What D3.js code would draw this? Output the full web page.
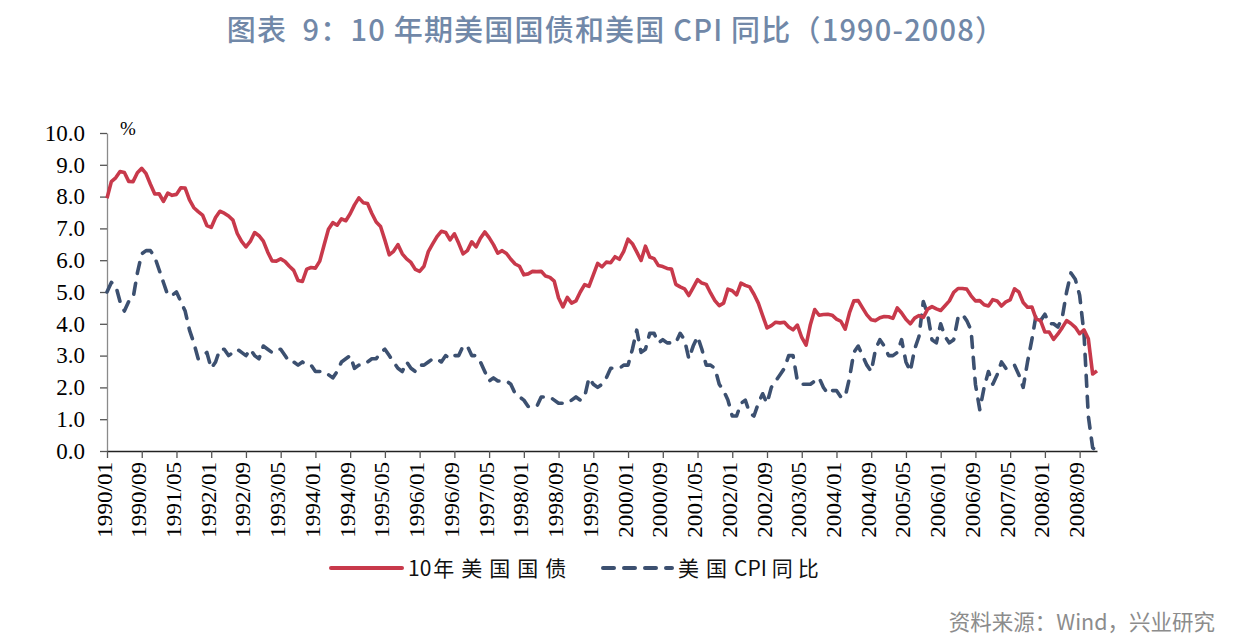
<!DOCTYPE html>
<html lang="zh-CN">
<head>
  <meta charset="UTF-8">
  <title>10年期美国国债和美国CPI同比</title>
  <script src="https://cdnjs.cloudflare.com/ajax/libs/d3/7.8.5/d3.min.js"></script>
  <style>
    html, body {
      margin: 0;
      padding: 0;
      background: #fff;
    }
    #chart {
      width: 1234px;
      height: 642px;
    }
    .axis text {
      font-family: "Liberation Serif", "Times New Roman", serif;
      fill: #000;
    }
  </style>
</head>
<body>
  <div id="chart"></div>

  <script>
    // monthly data, 1990/01 .. 2009/01
    const startYear = 1990;
    const tickLabels = ["1990/01", "1990/09", "1991/05", "1992/01", "1992/09", "1993/05", "1994/01", "1994/09",
      "1995/05", "1996/01", "1996/09", "1997/05", "1998/01", "1998/09", "1999/05", "2000/01", "2000/09",
      "2001/05", "2002/01", "2002/09", "2003/05", "2004/01", "2004/09", "2005/05", "2006/01", "2006/09",
      "2007/05", "2008/01", "2008/09"];
    const yTicks = [0, 1, 2, 3, 4, 5, 6, 7, 8, 9, 10];

    // 10年美国国债
    const treasury10y = [
      7.95, 8.47, 8.59, 8.79, 8.76, 8.48, 8.47, 8.75, 8.89, 8.72, 8.39, 8.08,
      8.09, 7.85, 8.11, 8.04, 8.07, 8.28, 8.27, 7.90, 7.65, 7.53, 7.42, 7.09,
      7.03, 7.34, 7.54, 7.48, 7.39, 7.26, 6.84, 6.59, 6.42, 6.59, 6.87, 6.77,
      6.60, 6.26, 5.98, 5.97, 6.04, 5.96, 5.81, 5.68, 5.36, 5.33, 5.72, 5.77,
      5.75, 5.97, 6.48, 6.97, 7.18, 7.10, 7.30, 7.24, 7.46, 7.74, 7.96, 7.81,
      7.78, 7.47, 7.20, 7.06, 6.63, 6.17, 6.28, 6.49, 6.20, 6.04, 5.93, 5.71,
      5.65, 5.81, 6.27, 6.51, 6.74, 6.91, 6.87, 6.64, 6.83, 6.53, 6.20, 6.30,
      6.58, 6.42, 6.69, 6.89, 6.71, 6.49, 6.22, 6.30, 6.21, 6.03, 5.88, 5.81,
      5.54, 5.57, 5.65, 5.64, 5.65, 5.50, 5.46, 5.34, 4.81, 4.53, 4.83, 4.65,
      4.72, 5.00, 5.23, 5.18, 5.54, 5.90, 5.79, 5.94, 5.92, 6.11, 6.03, 6.28,
      6.66, 6.52, 6.26, 5.99, 6.44, 6.10, 6.05, 5.83, 5.80, 5.74, 5.72, 5.24,
      5.16, 5.10, 4.89, 5.14, 5.39, 5.28, 5.24, 4.97, 4.73, 4.57, 4.65, 5.09,
      5.04, 4.91, 5.28, 5.21, 5.16, 4.93, 4.65, 4.26, 3.87, 3.94, 4.05, 4.03,
      4.05, 3.90, 3.81, 3.96, 3.57, 3.33, 3.98, 4.45, 4.27, 4.29, 4.30, 4.27,
      4.15, 4.08, 3.83, 4.35, 4.72, 4.73, 4.50, 4.28, 4.13, 4.10, 4.19, 4.23,
      4.22, 4.17, 4.50, 4.34, 4.14, 4.00, 4.18, 4.26, 4.20, 4.46, 4.54, 4.47,
      4.42, 4.57, 4.72, 4.99, 5.11, 5.11, 5.09, 4.88, 4.72, 4.73, 4.60, 4.56,
      4.76, 4.72, 4.56, 4.69, 4.75, 5.10, 5.00, 4.67, 4.52, 4.53, 4.15, 4.10,
      3.74, 3.74, 3.51, 3.68, 3.88, 4.10, 4.01, 3.89, 3.69, 3.81, 3.53, 2.42,
      2.52
    ];

    // 美国CPI同比
    const cpiYoY = [
      5.0, 5.3, 5.2, 4.7, 4.4, 4.7, 4.8, 5.6, 6.2, 6.3, 6.3, 6.1,
      5.7, 5.3, 4.9, 4.9, 5.0, 4.7, 4.4, 3.8, 3.4, 2.9, 3.0, 3.1,
      2.6, 2.8, 3.2, 3.2, 3.0, 3.1, 3.2, 3.1, 3.0, 3.2, 3.0, 2.9,
      3.3, 3.2, 3.1, 3.2, 3.2, 3.0, 2.8, 2.8, 2.7, 2.8, 2.7, 2.7,
      2.5, 2.5, 2.5, 2.4, 2.3, 2.5, 2.8, 2.9, 3.0, 2.6, 2.7, 2.7,
      2.8, 2.9, 2.9, 3.1, 3.2, 3.0, 2.8, 2.6, 2.5, 2.8, 2.6, 2.5,
      2.7, 2.7, 2.8, 2.9, 2.9, 2.8, 3.0, 2.9, 3.0, 3.0, 3.3, 3.3,
      3.0, 3.0, 2.8, 2.5, 2.2, 2.3, 2.2, 2.2, 2.2, 2.1, 1.8, 1.7,
      1.6, 1.4, 1.4, 1.4, 1.7, 1.7, 1.7, 1.6, 1.5, 1.5, 1.5, 1.6,
      1.7, 1.6, 1.7, 2.3, 2.1, 2.0, 2.1, 2.3, 2.6, 2.6, 2.6, 2.7,
      2.7, 3.2, 3.8, 3.1, 3.2, 3.7, 3.7, 3.4, 3.5, 3.4, 3.4, 3.4,
      3.7, 3.5, 2.9, 3.3, 3.6, 3.2, 2.7, 2.7, 2.6, 2.1, 1.9, 1.6,
      1.1, 1.1, 1.5, 1.6, 1.2, 1.1, 1.5, 1.8, 1.5, 2.0, 2.2, 2.4,
      2.6, 3.0, 3.0, 2.2, 2.1, 2.1, 2.1, 2.2, 2.3, 2.0, 1.8, 1.9,
      1.9, 1.7, 1.7, 2.3, 3.1, 3.3, 3.0, 2.7, 2.5, 3.2, 3.5, 3.3,
      3.0, 3.0, 3.1, 3.5, 2.8, 2.5, 3.2, 3.6, 4.7, 4.3, 3.5, 3.4,
      4.0, 3.6, 3.4, 3.5, 4.2, 4.3, 4.1, 3.8, 2.1, 1.3, 2.0, 2.5,
      2.1, 2.4, 2.8, 2.6, 2.7, 2.7, 2.4, 2.0, 2.8, 3.5, 4.3, 4.1,
      4.3, 4.0, 4.0, 3.9, 4.2, 5.0, 5.6, 5.4, 4.9, 3.7, 1.1, 0.1,
      0.0
    ];

    const months = treasury10y.map((_, i) => {
      const y = startYear + Math.floor(i / 12);
      const m = (i % 12) + 1;
      return `${y}/${m < 10 ? "0" + m : m}`;
    });

    const width = 1234, height = 642;
    const plot = { left: 107, right: 1097, top: 133, bottom: 451 };

    const svg = d3.select("#chart")
      .append("svg")
        .attr("width", width)
        .attr("height", height);

    const x = d3.scalePoint().domain(months).range([plot.left, plot.right]);
    const y = d3.scaleLinear().domain([0, 10]).range([plot.bottom, plot.top]);

    // title
    svg.append("text")
      .attr("x", 616)
      .attr("y", 41)
      .attr("text-anchor", "middle")
      .style("font-family", "'Noto Sans CJK SC', sans-serif")
      .style("font-weight", 500)
      .style("font-size", "29px")
      .style("letter-spacing", "1.2px")
      .style("fill", "#7188a8")
      .style("white-space", "pre")
      .text("图表  9：10 年期美国国债和美国 CPI 同比（1990-2008）");

    // y axis
    const yAxis = svg.append("g")
      .attr("class", "axis y-axis")
      .attr("transform", `translate(${plot.left},0)`)
      .call(d3.axisLeft(y).tickValues(yTicks).tickFormat(d3.format(".1f")).tickSize(7).tickSizeOuter(0).tickPadding(15));
    yAxis.selectAll("text").style("font-size", "23px");
    yAxis.select(".domain").attr("stroke", "#8a8a8a").attr("stroke-width", 1.3);
    yAxis.selectAll(".tick line").attr("stroke", "#555").attr("stroke-width", 1.3);

    svg.append("text")
      .attr("x", 120)
      .attr("y", 135)
      .style("font-family", "'Liberation Serif', serif")
      .style("font-size", "19px")
      .text("%");

    // x axis
    const xAxis = svg.append("g")
      .attr("class", "axis x-axis")
      .attr("transform", `translate(0,${plot.bottom})`)
      .call(d3.axisBottom(x).tickValues(tickLabels).tickSize(7).tickSizeOuter(0));
    xAxis.select(".domain").attr("stroke", "#222").attr("stroke-width", 1.3);
    xAxis.selectAll(".tick line").attr("stroke", "#555").attr("stroke-width", 1.3);
    xAxis.selectAll("text")
      .attr("y", 0)
      .attr("dy", 0)
      .attr("text-anchor", "end")
      .attr("transform", "translate(4,11) rotate(-90) scale(1.1,1)")
      .style("font-size", "21px");

    // lines
    const line = d3.line()
      .x((d, i) => x(months[i]))
      .y(d => y(d));

    svg.append("path")
      .datum(cpiYoY)
      .attr("d", line)
      .attr("fill", "none")
      .attr("stroke", "#3c5070")
      .attr("stroke-width", 3.6)
      .attr("stroke-linecap", "round")
      .attr("stroke-linejoin", "round")
      .attr("stroke-dasharray", "11,10");

    svg.append("path")
      .datum(treasury10y)
      .attr("d", line)
      .attr("fill", "none")
      .attr("stroke", "#c8394b")
      .attr("stroke-width", 3.6)
      .attr("stroke-linejoin", "round");

    // legend: latin part tight, CJK part spaced out
    const legendItems = [
      { latin: "10", cjk: "年美国国债", tail: "", color: "#c8394b", dash: null, x0: 331, x1: 402 },
      { latin: "", cjk: "美国", tail: "CPI", tail2: "同比", color: "#3c5070", dash: "11,10", x0: 603, x1: 672 }
    ];
    const legend = svg.append("g").attr("class", "legend");
    legendItems.forEach(item => {
      legend.append("line")
        .attr("x1", item.x0).attr("x2", item.x1)
        .attr("y1", 568).attr("y2", 568)
        .attr("stroke", item.color)
        .attr("stroke-width", 4)
        .attr("stroke-linecap", "round")
        .attr("stroke-dasharray", item.dash);
      const t = legend.append("text")
        .attr("x", item.x1 + 6)
        .attr("y", 576)
        .style("font-family", "'Noto Sans CJK SC', sans-serif")
        .style("font-size", "21px")
        .style("fill", "#111");
      if (item.latin) t.append("tspan").text(item.latin);
      t.append("tspan").attr("dx", item.latin ? 2 : 0).style("letter-spacing", "7px").text(item.cjk);
      if (item.tail) t.append("tspan").text(item.tail);
      if (item.tail2) t.append("tspan").attr("dx", 5).style("letter-spacing", "5px").text(item.tail2);
    });

    // source
    svg.append("text")
      .attr("x", 1215)
      .attr("y", 630)
      .attr("text-anchor", "end")
      .style("font-family", "'Noto Sans CJK SC', sans-serif")
      .style("font-size", "21.5px")
      .style("fill", "#8c8c8c")
      .text("资料来源：Wind，兴业研究");
  </script>
</body>
</html>
